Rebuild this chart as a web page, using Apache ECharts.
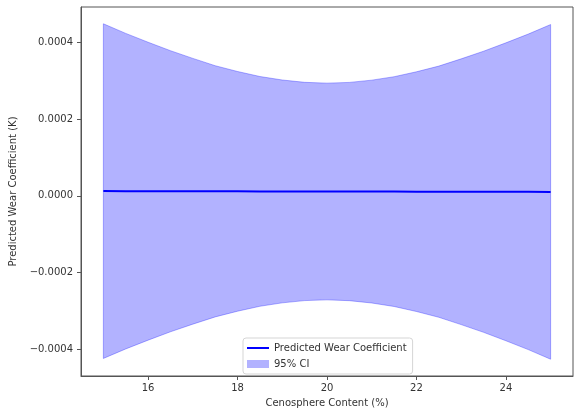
<!DOCTYPE html>
<html>
<head>
<meta charset="utf-8">
<script src="https://cdn.jsdelivr.net/npm/echarts@6/dist/echarts.min.js"></script>
<style>html,body{margin:0;padding:0;background:#fff}#c{width:576px;height:414px}</style>
</head>
<body>
<div id="c"></div>
<script>
// Data
var xValues = [15,15.5,16,16.5,17,17.5,18,18.5,19,19.5,20,20.5,21,21.5,22,22.5,23,23.5,24,24.5,25];
var predicted = [0.0000125,0.0000124,0.0000123,0.0000122,0.0000121,0.0000120,0.0000119,0.0000118,0.0000117,0.0000116,0.0000115,0.0000114,0.0000113,0.0000112,0.0000111,0.0000110,0.0000109,0.0000108,0.0000107,0.0000106,0.0000105];
var ciUpper = [0.0004495,0.0004244,0.0004013,0.0003792,0.0003591,0.0003400,0.0003249,0.0003118,0.0003027,0.0002966,0.0002945,0.0002964,0.0003023,0.0003112,0.0003241,0.0003390,0.0003579,0.0003778,0.0003997,0.0004226,0.0004475];
var ciLower = [-0.0004245,-0.0003996,-0.0003767,-0.0003548,-0.0003349,-0.0003160,-0.0003011,-0.0002882,-0.0002793,-0.0002734,-0.0002715,-0.0002736,-0.0002797,-0.0002888,-0.0003019,-0.0003170,-0.0003361,-0.0003562,-0.0003783,-0.0004014,-0.0004265];
var xTicks = [16,18,20,22,24];
var yTicks = [-0.0004,-0.0002,0,0.0002,0.0004];
var lineName = 'Predicted Wear Coefficient';
var bandName = '95% CI';
var xTitle = 'Cenosphere Content (%)';
var yTitle = 'Predicted Wear Coefficient (K)';

// Axis limits with matplotlib-like 5% margins
var xMinD = Math.min.apply(null, xValues), xMaxD = Math.max.apply(null, xValues);
var yMinD = Math.min.apply(null, ciLower), yMaxD = Math.max.apply(null, ciUpper);
var xPad = (xMaxD - xMinD) * 0.05, yPad = (yMaxD - yMinD) * 0.05;

var FONT = 'DejaVu Sans';
var chart = echarts.init(document.getElementById('c'), null, {renderer: 'canvas'});

var lineData = xValues.map(function (x, i) { return [x, predicted[i]]; });

function fmtY(v) {
  var s = Math.abs(v) < 1e-12 ? '0.0000' : v.toFixed(4);
  return s.replace('-', '\u2212');
}

var lineIcon = 'path://M0,0 L0.01,0 L0,0 Z M0,3 L22,3 L22,5 L0,5 Z M22,8 L21.99,8 L22,8 Z';

chart.setOption({
  animation: false,
  textStyle: {fontFamily: FONT},
  grid: {left: 81, right: 3, top: 7, bottom: 38, show: true, borderColor: '#555', borderWidth: 1, backgroundColor: 'transparent'},
  legend: {
    orient: 'vertical', left: 243, top: 338,
    data: [{name: lineName, icon: lineIcon}, {name: bandName, icon: 'rect'}],
    itemWidth: 22, itemHeight: 8, itemGap: 6,
    textStyle: {fontFamily: FONT, fontSize: 10, color: '#333'},
    borderColor: '#d5d5d5', borderWidth: 1, borderRadius: 3,
    padding: [5, 6, 5, 4], backgroundColor: 'rgba(255,255,255,0.8)'
  },
  xAxis: {
    type: 'value', min: xMinD - xPad, max: xMaxD + xPad,
    name: xTitle, nameLocation: 'middle', nameGap: 22,
    nameTextStyle: {fontFamily: FONT, fontSize: 10, color: '#333'},
    axisLine: {show: true, onZero: false, lineStyle: {color: '#555', width: 1}},
    axisTick: {show: true, inside: false, length: 4, customValues: xTicks, lineStyle: {color: '#555'}},
    axisLabel: {show: true, customValues: xTicks, margin: 7, fontFamily: FONT, fontSize: 10, color: '#333',
      formatter: function (v) { return String(v); }},
    splitLine: {show: false}
  },
  yAxis: {
    type: 'value', min: yMinD - yPad, max: yMaxD + yPad,
    name: yTitle, nameLocation: 'middle', nameGap: 56, nameRotate: 90,
    nameTextStyle: {fontFamily: FONT, fontSize: 10, color: '#333'},
    axisLine: {show: true, onZero: false, lineStyle: {color: '#555', width: 1}},
    axisTick: {show: true, inside: false, length: 4, customValues: yTicks, lineStyle: {color: '#555'}},
    axisLabel: {show: true, customValues: yTicks, margin: 8, fontFamily: FONT, fontSize: 10, color: '#333',
      formatter: fmtY},
    splitLine: {show: false}
  },
  series: [
    {
      name: bandName,
      type: 'custom',
      itemStyle: {color: 'rgba(0,0,255,0.3)'},
      data: [[xValues[0], ciUpper[0]]],
      encode: {x: 0, y: 1},
      renderItem: function (params, api) {
        var pts = [];
        for (var i = 0; i < xValues.length; i++) pts.push(api.coord([xValues[i], ciUpper[i]]));
        for (var j = xValues.length - 1; j >= 0; j--) pts.push(api.coord([xValues[j], ciLower[j]]));
        return {
          type: 'polygon',
          shape: {points: pts},
          style: {fill: 'rgba(0,0,255,0.3)', stroke: 'rgba(0,0,255,0.3)', lineWidth: 1}
        };
      },
      z: 1
    },
    {
      name: lineName,
      type: 'line',
      data: lineData,
      showSymbol: false,
      symbol: 'none',
      lineStyle: {color: '#0000ff', width: 2},
      itemStyle: {color: '#0000ff'},
      z: 3
    }
  ]
});
</script>
</body>
</html>
